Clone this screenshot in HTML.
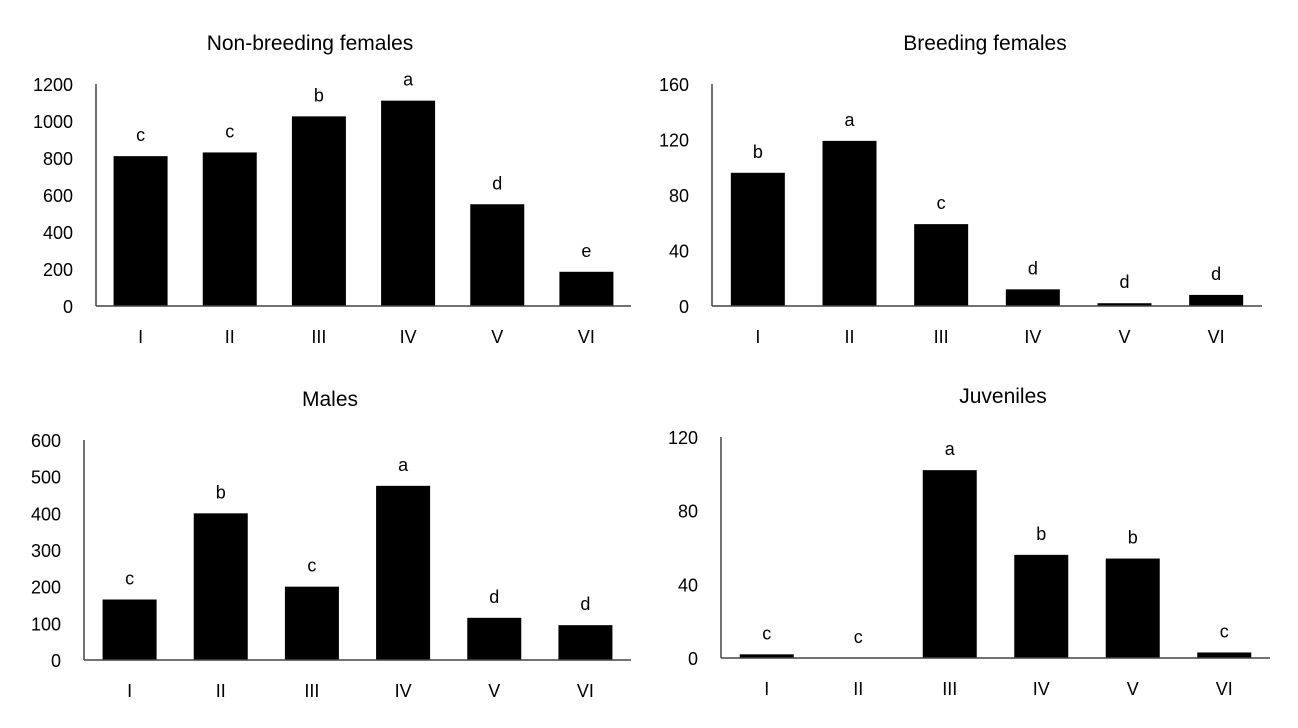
<!DOCTYPE html>
<html><head><meta charset="utf-8">
<style>
body{margin:0;background:#fff;width:1298px;height:723px;overflow:hidden}
svg{font-family:"Liberation Sans",Arial,sans-serif}
</style></head>
<body>
<svg id="c" width="1298" height="723"></svg>
<script>
const categories = ["I","II","III","IV","V","VI"];
const nbfValues = [810, 830, 1025, 1110, 550, 185];
const nbfLetters = ["c","c","b","a","d","e"];
const nbfTicks = [0,200,400,600,800,1000,1200];
const bfValues = [96, 119, 59, 12, 2, 8];
const bfLetters = ["b","a","c","d","d","d"];
const bfTicks = [0,40,80,120,160];
const mValues = [165, 400, 200, 475, 115, 95];
const mLetters = ["c","b","c","a","d","d"];
const mTicks = [0,100,200,300,400,500,600];
const jValues = [2, 0, 102, 56, 54, 3];
const jLetters = ["c","c","a","b","b","c"];
const jTicks = [0,40,80,120];

const NS="http://www.w3.org/2000/svg";
const svg=document.getElementById('c');
function mk(tag,attrs,parent){const e=document.createElementNS(NS,tag);for(const k in attrs)e.setAttribute(k,attrs[k]);(parent||svg).appendChild(e);return e;}

function panel(id,title,titleX,left,right,top,bottom,vals,letters,ticks){
  const g=mk('g',{});
  
  
  const max=ticks[ticks.length-1];
  const y=v=>bottom-(v/max)*(bottom-top);
  const step=(right-left)/categories.length;
  const x=i=>left+step*(i+0.5);
  const t=mk('text',{x:titleX,y:top-34,'text-anchor':'middle','font-size':21},g);
  t.textContent=title;
  
  
  const ya=mk('line',{x1:left,y1:top,x2:left,y2:bottom,stroke:'#444','stroke-width':1.5},g);
  
  
  ticks.forEach(v=>{
    const tl=mk('text',{x:left-23,y:y(v)+7,'text-anchor':'end','font-size':18},g);
    tl.textContent=v;
    
    
  });
  vals.forEach((v,i)=>{
    const h=bottom-y(v);
    if(h>0){
      const b=mk('rect',{x:x(i)-27,y:y(v),width:54,height:h,fill:'#000'},g);
      
      
    }
    const l=mk('text',{x:x(i),y:y(v)-15,'text-anchor':'middle','font-size':18},g);
    l.textContent=letters[i];
    
    
    const c=mk('text',{x:x(i),y:bottom+37,'text-anchor':'middle','font-size':18},g);
    c.textContent=categories[i];
    
    
  });
  const xa=mk('line',{x1:left,y1:bottom,x2:right,y2:bottom,stroke:'#444','stroke-width':1.5},g);
  
  
}
panel('non-breeding-females','Non-breeding females',310,96,631,84,306,nbfValues,nbfLetters,nbfTicks);
panel('breeding-females','Breeding females',985,712,1262,84,306,bfValues,bfLetters,bfTicks);
panel('males','Males',330,84,631,440,660,mValues,mLetters,mTicks);
panel('juveniles','Juveniles',1003,721,1270,437,658,jValues,jLetters,jTicks);
</script>
</body></html>
